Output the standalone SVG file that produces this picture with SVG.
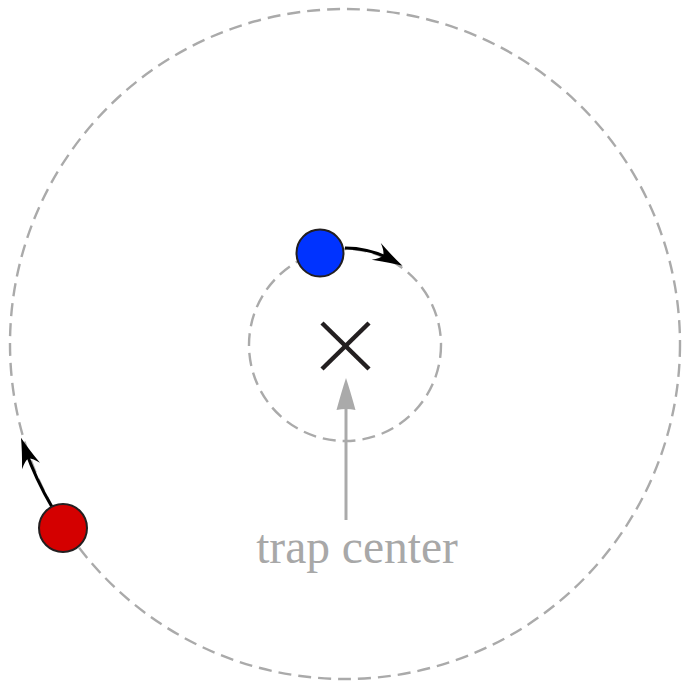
<svg xmlns="http://www.w3.org/2000/svg" width="684" height="683" viewBox="0 0 684 683">
  <style>
    .orbit { fill: none; stroke: #aaaaaa; stroke-width: 2.4; stroke-dasharray: 13 7; }
    .motion { fill: none; stroke: #000000; stroke-width: 3; }
    .pointer { fill: none; stroke: #aaaaaa; stroke-width: 3; }
    .ball { stroke: #231f20; stroke-width: 2; }
    .cross { stroke: #231f20; stroke-width: 4.5; }
    .label { font-family: "Liberation Serif", "Times New Roman", serif; font-size: 47.5px; fill: #a8a8a8; }
  </style>
  <defs>
    <marker id="barb" markerUnits="userSpaceOnUse" viewBox="-20 -11 34 22" refX="0" refY="0" markerWidth="34" markerHeight="22" orient="auto" overflow="visible">
      <path d="M12,0 Q0,-3 -18,-9.5 Q-11,-4 -10,0 Q-11,4 -18,9.5 Q0,3 12,0 Z" fill="#000000"/>
    </marker>
    <marker id="grayhead" markerUnits="userSpaceOnUse" viewBox="-20 -11 34 22" refX="0" refY="0" markerWidth="34" markerHeight="22" orient="auto" overflow="visible">
      <path d="M12,0 Q0,-4 -20,-9.5 Q-18,0 -20,9.5 Q0,4 12,0 Z" fill="#aaaaaa"/>
    </marker>
  </defs>

  <g id="orbits">
    <circle id="outer-orbit" class="orbit" cx="345" cy="344" r="335"/>
    <circle id="inner-orbit" class="orbit" cx="345" cy="345" r="96"/>
  </g>

  <g id="connectors">
    <path id="blue-motion" class="motion" d="M345,248 A97,97 0 0 1 392,260" marker-end="url(#barb)"/>
    <path id="red-motion" class="motion" d="M52,507 A337,337 0 0 1 25,449" marker-end="url(#barb)"/>
    <path id="center-pointer" class="pointer" d="M346,520 L346,390" marker-end="url(#grayhead)"/>
  </g>

  <g id="trap-center-mark">
    <line class="cross" x1="322" y1="323" x2="369" y2="369"/>
    <line class="cross" x1="369" y1="323" x2="322" y2="369"/>
  </g>

  <g id="blue-particle">
    <circle class="ball" cx="320" cy="253" r="23.5" fill="#0033ff"/>
  </g>

  <g id="red-particle">
    <circle class="ball" cx="63" cy="528" r="24" fill="#d40000"/>
  </g>

  <g id="label">
    <text class="label" x="357" y="563" text-anchor="middle">trap center</text>
  </g>
</svg>
